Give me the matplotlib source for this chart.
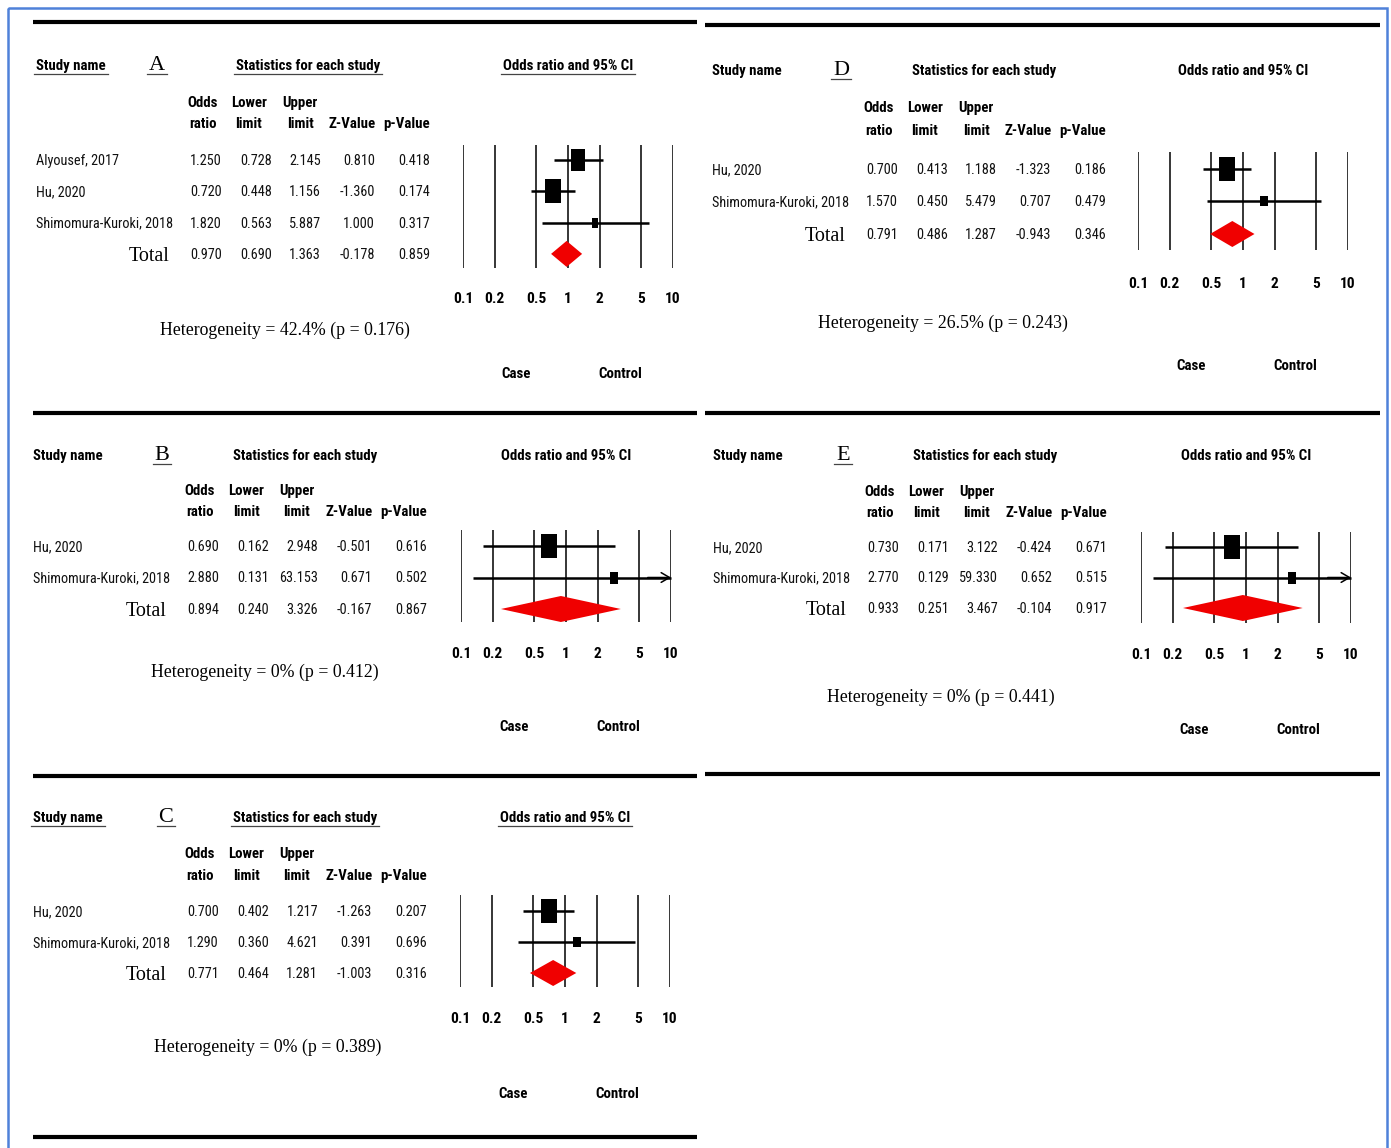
import numpy as np
import matplotlib
matplotlib.use('Agg')
import matplotlib.pyplot as plt
from matplotlib.path import Path
from matplotlib.patches import Rectangle
from matplotlib import font_manager

# ---- study data, one block per sub-analysis ----
studies_a = ['Alyousef, 2017', 'Hu, 2020', 'Shimomura-Kuroki, 2018']
or_a = [1.250, 0.720, 1.820]
lower_a = [0.728, 0.448, 0.563]
upper_a = [2.145, 1.156, 5.887]
z_a = [0.810, -1.360, 1.000]
p_a = [0.418, 0.174, 0.317]
total_a = [0.970, 0.690, 1.363, -0.178, 0.859]
het_a = [42.4, 0.176]

studies_b = ['Hu, 2020', 'Shimomura-Kuroki, 2018']
or_b = [0.690, 2.880]
lower_b = [0.162, 0.131]
upper_b = [2.948, 63.153]
z_b = [-0.501, 0.671]
p_b = [0.616, 0.502]
total_b = [0.894, 0.240, 3.326, -0.167, 0.867]
het_b = [0, 0.412]

studies_c = ['Hu, 2020', 'Shimomura-Kuroki, 2018']
or_c = [0.700, 1.290]
lower_c = [0.402, 0.360]
upper_c = [1.217, 4.621]
z_c = [-1.263, 0.391]
p_c = [0.207, 0.696]
total_c = [0.771, 0.464, 1.281, -1.003, 0.316]
het_c = [0, 0.389]

studies_d = ['Hu, 2020', 'Shimomura-Kuroki, 2018']
or_d = [0.700, 1.570]
lower_d = [0.413, 0.450]
upper_d = [1.188, 5.479]
z_d = [-1.323, 0.707]
p_d = [0.186, 0.479]
total_d = [0.791, 0.486, 1.287, -0.943, 0.346]
het_d = [26.5, 0.243]

studies_e = ['Hu, 2020', 'Shimomura-Kuroki, 2018']
or_e = [0.730, 2.770]
lower_e = [0.171, 0.129]
upper_e = [3.122, 59.330]
z_e = [-0.424, 0.652]
p_e = [0.671, 0.515]
total_e = [0.933, 0.251, 3.467, -0.104, 0.917]
het_e = [0, 0.441]

axis_ticks = [0.1, 0.2, 0.5, 1, 2, 5, 10]
axis_labels = ['0.1', '0.2', '0.5', '1', '2', '5', '10']

# ---- page layout (pixels, origin top-left) ----
W, H = 1391, 1148
LAYOUT = {
    'A': dict(x=36, title_y=65, head_y=(102, 123), row_y=160, dy=31.3, letter_x=157,
              fx=463, vtop=145, vbot=268, tick_y=298, case_y=373, het=(285, 330), uline=True),
    'B': dict(x=33, title_y=455, head_y=(490, 511), row_y=546, dy=31.5, letter_x=162,
              fx=461, vtop=530, vbot=622, tick_y=653, case_y=726, het=(265, 672), uline=False),
    'C': dict(x=33, title_y=817, head_y=(853, 875), row_y=911, dy=31.0, letter_x=166,
              fx=460, vtop=895, vbot=987, tick_y=1018, case_y=1093, het=(268, 1047), uline=True),
    'D': dict(x=712, title_y=70, head_y=(107, 130), row_y=169, dy=32.5, letter_x=841,
              fx=1138, vtop=152, vbot=250, tick_y=283, case_y=365, het=(943, 323), uline=False),
    'E': dict(x=713, title_y=455, head_y=(491, 512), row_y=547, dy=30.5, letter_x=843,
              fx=1141, vtop=532, vbot=623, tick_y=654, case_y=729, het=(941, 697), uline=False),
}
RULES = [(22, 33, 697), (25, 705, 1380), (413, 33, 697), (413, 705, 1380),
         (776, 33, 697), (774, 705, 1380), (1137, 33, 697)]
COL_RIGHT = [186, 236, 285, 339, 394]      # right edges of numeric columns
HEAD_X = [167, 213, 264, 316, 371]         # header centres
HEAD_1 = ['Odds', 'Lower', 'Upper', '', '']
HEAD_2 = ['ratio', 'limit', 'limit', 'Z-Value', 'p-Value']
BL = 5                                     # text centre -> baseline offset


def pick_sans():
    """Prefer a narrow sans face for the table text, else plain Liberation Sans."""
    faces = font_manager.fontManager.ttflist
    names = {f.name for f in faces}
    for name in ['Liberation Sans Narrow', 'Arial Narrow', 'Roboto Condensed',
                 'DejaVu Sans Condensed', 'Open Sans Condensed', 'Noto Sans Condensed']:
        if name in names:
            return dict(family=name), 10.3
    for f in faces:
        if f.name in ('Roboto', 'Noto Sans', 'Open Sans', 'DejaVu Sans') and \
                f.stretch in ('condensed', 'semi-condensed', 'extra-condensed'):
            return dict(family=f.name, fontstretch=f.stretch), 10.0
    return dict(family='Liberation Sans'), 9.4


SANS, FS = pick_sans()
SERIF = 'Liberation Serif'

BOX = Path([(-0.35, -0.5), (0.35, -0.5), (0.35, 0.5), (-0.35, 0.5), (-0.35, -0.5)],
           [Path.MOVETO, Path.LINETO, Path.LINETO, Path.LINETO, Path.CLOSEPOLY])

fig = plt.figure(figsize=(W / 100, H / 100), dpi=100)
fig.patch.set_facecolor('white')
bg = fig.add_axes([0, 0, 1, 1])
bg.set_xlim(0, W)
bg.set_ylim(H, 0)
bg.axis('off')

# blue frame round the page
bg.add_patch(Rectangle((8, 8), 1379, 1200, fill=False, ec='#4F81D9', lw=1.8))
for y, x0, x1 in RULES:
    bg.plot([x0, x1], [y, y], color='black', lw=3.0, solid_capstyle='butt')

underlined = []


def draw_panel(key, names, odds, lo, hi, zv, pv, total, het):
    L = LAYOUT[key]
    x = L['x']
    base = L['title_y'] + BL
    bold = dict(fontsize=FS + 0.4, fontweight='bold', va='baseline', **SANS)
    plain = dict(fontsize=FS, color='#111111', va='baseline', **SANS)

    t1 = bg.text(x, base, 'Study name', ha='left', **bold)
    t2 = bg.text(L['letter_x'], base, key, va='baseline', ha='center',
                 family=SERIF, fontsize=16)
    t3 = bg.text(x + 272, base, 'Statistics for each study', ha='center', **bold)
    t4 = bg.text(L['fx'] + 105, base, 'Odds ratio and 95% CI', ha='center', **bold)
    underlined.append(t2)
    if L['uline']:
        underlined.extend([t1, t3, t4])

    for hx, h1, h2 in zip(HEAD_X, HEAD_1, HEAD_2):
        if h1:
            bg.text(x + hx, L['head_y'][0] + BL, h1, ha='center', **bold)
        bg.text(x + hx, L['head_y'][1] + BL, h2, ha='center', **bold)

    rows_y = [L['row_y'] + i * L['dy'] for i in range(len(names) + 1)]
    for i, name in enumerate(names):
        y = rows_y[i] + BL
        bg.text(x, y, name, ha='left', **plain)
        vals = [odds[i], lo[i], hi[i], zv[i], pv[i]]
        for cx, v in zip(COL_RIGHT, vals):
            bg.text(x + cx, y, f'{v:.3f}', ha='right', **plain)
    ty = rows_y[-1]
    bg.text(x + 134, ty + 7, 'Total', ha='right', va='baseline', family=SERIF, fontsize=14.5)
    for cx, v in zip(COL_RIGHT, total):
        bg.text(x + cx, ty + BL, f'{v:.3f}', ha='right', **plain)

    bg.text(L['het'][0], L['het'][1], f'Heterogeneity = {het[0]:g}% (p = {het[1]:.3f})',
            ha='center', va='center', family=SERIF, fontsize=12.8)
    bg.text(L['fx'] + 53, L['case_y'] + BL, 'Case', ha='center', **bold)
    bg.text(L['fx'] + 157, L['case_y'] + BL, 'Control', ha='center', **bold)

    # forest plot on a log odds-ratio axis
    ax = fig.add_axes([L['fx'] / W, 1 - L['vbot'] / H, 210 / W, (L['vbot'] - L['vtop']) / H])
    ax.set_xscale('log')
    ax.set_xlim(0.1, 10)
    ax.set_ylim(L['vbot'], L['vtop'])
    ax.axis('off')
    for v, lab in zip(axis_ticks, axis_labels):
        ax.axvline(v, color='black', lw=1.1, zorder=1)
        ax.text(v, L['tick_y'] + BL, lab, ha='center', va='baseline', clip_on=False,
                fontsize=FS + 0.8, fontweight='bold', **SANS)

    # box size from inverse-variance weight
    se = (np.log(hi) - np.log(lo)) / 3.92
    w = 1 / se ** 2
    box_h = 24 * np.sqrt(w / w.max())
    for i in range(len(names)):
        y = rows_y[i]
        ax.plot([lo[i], min(hi[i], 10)], [y, y], color='black', lw=1.8,
                solid_capstyle='butt', zorder=2, clip_on=False)
        if hi[i] > 10:
            ax.annotate('', xy=(10, y), xytext=(6, y), zorder=2, annotation_clip=False,
                        arrowprops=dict(arrowstyle='->,head_length=0.6,head_width=0.35',
                                        lw=1.1, color='black', shrinkA=0, shrinkB=0))
        ax.plot(odds[i], y, marker=BOX, ms=box_h[i] * 0.72, mfc='black', mec='black',
                mew=0, zorder=3, clip_on=False)
    ax.fill([total[1], total[0], total[2], total[0]], [ty, ty - 13, ty, ty + 13],
            color='#F00000', lw=0, zorder=3, clip_on=False)


draw_panel('A', studies_a, or_a, lower_a, upper_a, z_a, p_a, total_a, het_a)
draw_panel('B', studies_b, or_b, lower_b, upper_b, z_b, p_b, total_b, het_b)
draw_panel('C', studies_c, or_c, lower_c, upper_c, z_c, p_c, total_c, het_c)
draw_panel('D', studies_d, or_d, lower_d, upper_d, z_d, p_d, total_d, het_d)
draw_panel('E', studies_e, or_e, lower_e, upper_e, z_e, p_e, total_e, het_e)

# underline the headings that carry one
fig.canvas.draw()
renderer = fig.canvas.get_renderer()
inv = bg.transData.inverted()
for t in underlined:
    bb = t.get_window_extent(renderer)
    (x0, _), (x1, _) = inv.transform([[bb.x0, bb.y0], [bb.x1, bb.y1]])
    yb = t.get_position()[1] + 4
    bg.plot([x0 - 2, x1 + 2], [yb, yb], color='#444444', lw=0.9)

fig.savefig('out.png', dpi=100, facecolor='white')
